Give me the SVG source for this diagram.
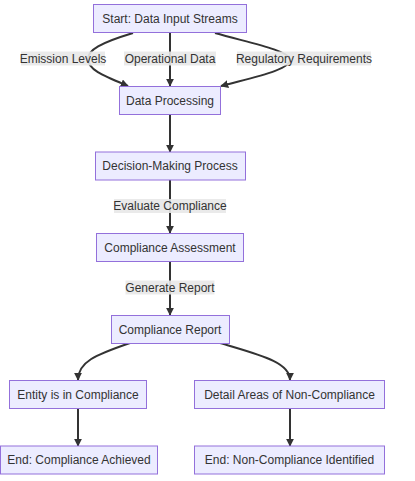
<svg xmlns="http://www.w3.org/2000/svg" width="415" height="481" viewBox="0 0 415 481">
<style>
.node rect{fill:#ECECFF;stroke:#9370DB;stroke-width:1}
text{font-family:"Liberation Sans",Arial,sans-serif;font-size:12px;fill:#333;text-anchor:middle;dominant-baseline:central}
.edge{fill:none;stroke:#333;stroke-width:2}
.lbl rect{fill:#e8e8e8;opacity:0.9}
</style>
<defs>
<marker id="arr" viewBox="0 0 10 10" refX="9" refY="5" markerWidth="8" markerHeight="8" markerUnits="userSpaceOnUse" orient="auto">
<path d="M0,0 L10,5 L0,10 z" fill="#333"/>
</marker>
</defs>
<rect width="415" height="481" fill="#fff"/>
<g id="connectors">
<path class="edge" marker-end="url(#arr)" d="M133,33 C100,43 88,50 88,59 C88,70 104,76 128,86"/>
<path class="edge" marker-end="url(#arr)" d="M170,33 L170,86"/>
<path class="edge" marker-end="url(#arr)" d="M215,33 C250,43 287,50 290,59 C292,70 250,78 221,86"/>
<path class="edge" marker-end="url(#arr)" d="M170,115 L170,152"/>
<path class="edge" marker-end="url(#arr)" d="M170,180 L170,233"/>
<path class="edge" marker-end="url(#arr)" d="M170,262 L170,315"/>
<path class="edge" marker-end="url(#arr)" d="M130,343 C95,355 78,362 78,380"/>
<path class="edge" marker-end="url(#arr)" d="M220,343 C260,355 290,362 290,380"/>
<path class="edge" marker-end="url(#arr)" d="M78,409 L78,446"/>
<path class="edge" marker-end="url(#arr)" d="M290,409 L290,446"/>
<g class="lbl"><rect x="21" y="51.5" width="84" height="14"/><text x="63" y="59">Emission Levels</text></g>
<g class="lbl"><rect x="124" y="51.5" width="92" height="14"/><text x="170" y="59">Operational Data</text></g>
<g class="lbl"><rect x="237" y="51.5" width="134" height="14"/><text x="304" y="59">Regulatory Requirements</text></g>
<g class="lbl"><rect x="114" y="199" width="112" height="14"/><text x="170" y="206">Evaluate Compliance</text></g>
<g class="lbl"><rect x="125.5" y="280.5" width="89" height="14"/><text x="170" y="287.5">Generate Report</text></g>
</g>
<g id="start" class="node"><rect x="93.5" y="4.5" width="153" height="28"/><text x="170" y="18.5">Start: Data Input Streams</text></g>
<g id="processing" class="node"><rect x="119.5" y="86.5" width="101" height="28"/><text x="170" y="100.5">Data Processing</text></g>
<g id="decision" class="node"><rect x="95.5" y="152" width="150" height="28"/><text x="170" y="166">Decision-Making Process</text></g>
<g id="assessment" class="node"><rect x="96.5" y="233.5" width="147" height="28"/><text x="170" y="247.5">Compliance Assessment</text></g>
<g id="report" class="node"><rect x="111.5" y="315.5" width="118" height="28"/><text x="170" y="329.5">Compliance Report</text></g>
<g id="compliant" class="node"><rect x="9.5" y="380.5" width="137" height="28"/><text x="78" y="394.5">Entity is in Compliance</text></g>
<g id="noncompliant" class="node"><rect x="194.5" y="380.5" width="190" height="28"/><text x="289.5" y="394.5">Detail Areas of Non-Compliance</text></g>
<g id="endok" class="node"><rect x="0.5" y="446" width="157" height="28"/><text x="79" y="460">End: Compliance Achieved</text></g>
<g id="endnok" class="node"><rect x="194.5" y="446" width="190" height="28"/><text x="289.5" y="460">End: Non-Compliance Identified</text></g>
</svg>
